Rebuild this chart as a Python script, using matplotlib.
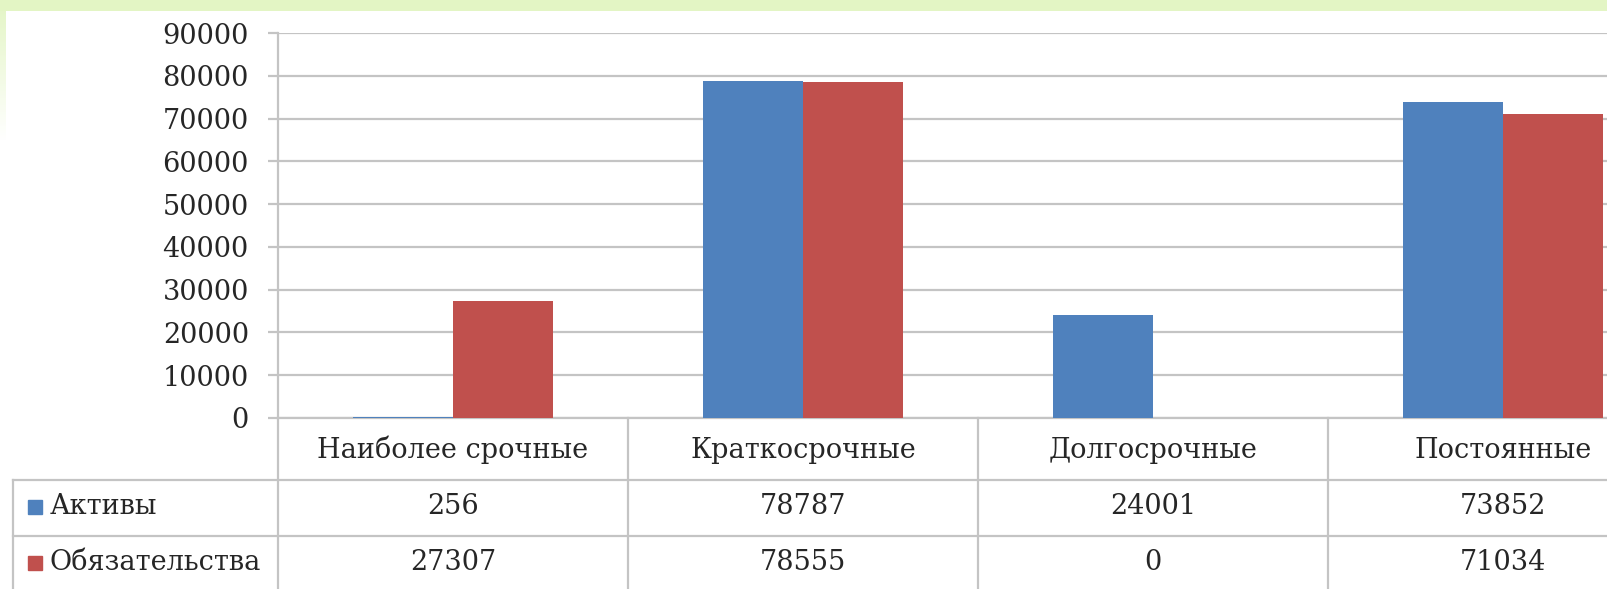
import numpy as np
import matplotlib
matplotlib.use("Agg")
import matplotlib.pyplot as plt
from matplotlib.transforms import blended_transform_factory

# ---- data ----
categories = ["Наиболее срочные", "Краткосрочные", "Долгосрочные", "Постоянные"]
series_names = ["Активы", "Обязательства"]
assets = [256, 78787, 24001, 73852]
liabilities = [27307, 78555, 0, 71034]
yticks = [0, 10000, 20000, 30000, 40000, 50000, 60000, 70000, 80000, 90000]

BLUE = "#4F81BD"
RED = "#C0504D"
GRID = "#c4c4c4"
TXT = "#262626"

plt.rcParams['font.family'] = ['DejaVu Serif', 'DejaVu Sans']

W, H = 1608, 589
fig = plt.figure(figsize=(W / 100, H / 100), dpi=100)

# background: green band on top, fading strip on the left
bg = fig.add_axes([0, 0, 1, 1], zorder=-10)
bg.axis('off')
img = np.ones((H, W, 3))
green = np.array([227, 245, 196]) / 255.0
img[:11, :, :] = green
fade = np.clip(1 - np.arange(H) / 140.0, 0, 1)[:, None]
img[:, :6, :] = green[None, None, :] * fade[:, :, None] + (1 - fade[:, :, None])
img[:11, :, :] = green
bg.imshow(img, aspect='auto', extent=[0, 1, 0, 1], interpolation='bilinear')
bg.set_xlim(0, 1)
bg.set_ylim(0, 1)

# main axes (extends past right edge like the cropped reference)
AX_L, AX_R, AX_T, AX_B = 278, 1678, 33, 418
ax = fig.add_axes([AX_L / W, (H - AX_B) / H, (AX_R - AX_L) / W, (AX_B - AX_T) / H])
ax.set_facecolor('none')

x = np.arange(len(categories))
bw = 100 / 350
ax.bar(x - bw / 2, assets, bw, color=BLUE, zorder=3)
ax.bar(x + bw / 2, liabilities, bw, color=RED, zorder=3)

ax.set_xlim(-0.5, len(categories) - 0.5)
ax.set_ylim(0, 90000)
ax.set_yticks(yticks)
ax.set_yticklabels([str(t) for t in yticks])
ax.set_xticks([])
ax.yaxis.grid(True, color=GRID, lw=1.6)
ax.set_axisbelow(True)
for s in ['top', 'right']:
    ax.spines[s].set_visible(False)
for s in ['left', 'bottom']:
    ax.spines[s].set_color(GRID)
    ax.spines[s].set_linewidth(1.6)
ax.tick_params(axis='y', length=7, width=1.6, color=GRID, pad=14,
               labelsize=19.5, labelcolor=TXT)

# ---- data table under the chart ----
tr = blended_transform_factory(ax.transData, ax.transAxes)

def ay(py):
    return (AX_B - py) / (AX_B - AX_T)

def dx(px):
    return -0.5 + (px - AX_L) / 350.0

LINE_KW = dict(color=GRID, lw=1.6, transform=tr, clip_on=False)
y_bottom = ay(600)
for xv in np.arange(len(categories) + 1) - 0.5:
    ax.plot([xv, xv], [0, y_bottom], **LINE_KW)
ax.plot([dx(13), dx(13)], [ay(480), y_bottom], **LINE_KW)
for py in (480, 536):
    ax.plot([dx(13), len(categories) - 0.5], [ay(py), ay(py)], **LINE_KW)

for i, c in enumerate(categories):
    ax.text(i, ay(450), c, transform=tr, ha='center', va='center',
            fontsize=19.5, color=TXT, clip_on=False)
for row, (name, vals, col) in enumerate([(series_names[0], assets, BLUE),
                                         (series_names[1], liabilities, RED)]):
    yc = ay(507 + row * 56)
    ax.plot([dx(35)], [yc], marker='s', ms=10.5, color=col, mec=col,
            transform=tr, clip_on=False, ls='none')
    ax.text(dx(50), yc, name, transform=tr, ha='left', va='center',
            fontsize=19.5, color=TXT, clip_on=False)
    for i, v in enumerate(vals):
        ax.text(i, yc, str(v), transform=tr, ha='center', va='center',
                fontsize=19.5, color=TXT, clip_on=False)

fig.savefig("out.png", dpi=100)
